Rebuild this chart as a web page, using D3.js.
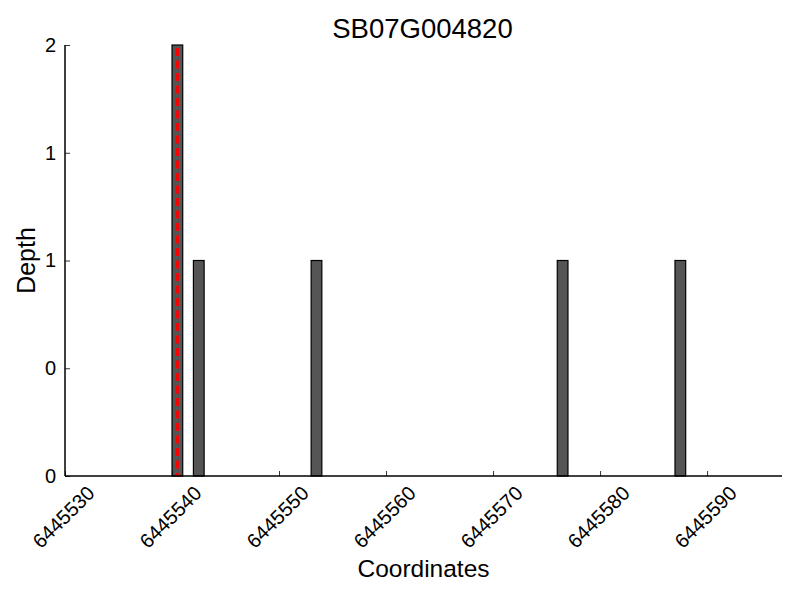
<!DOCTYPE html>
<html><head><meta charset="utf-8">
<script src="https://cdn.jsdelivr.net/npm/d3@7"></script>
<style>body{margin:0;background:#fff}svg{display:block}text{font-family:"Liberation Sans",Arial,sans-serif;fill:#000}</style>
</head><body><svg id="c" width="800" height="600"></svg>
<script>
const title = "SB07G004820";
const positions = [6445540, 6445542, 6445553, 6445576, 6445587];
const depths = [2, 1, 1, 1, 1];
const markerPos = [6445540.5];
const xTicks = [6445530, 6445540, 6445550, 6445560, 6445570, 6445580, 6445590];
const yTicks = [0, 0.5, 1, 1.5, 2];
const yTickLabels = ["0", "0", "1", "1", "2"];
const xDomain = [6445530, 6445597];
const yDomain = [0, 2];

const svg = d3.select("#c");
const m = {l: 65, r: 18, t: 45, b: 124};
const W = 800, H = 600;
const x = d3.scaleLinear().domain(xDomain).range([m.l, W - m.r]);
const y = d3.scaleLinear().domain(yDomain).range([H - m.b, m.t]);

// bars
svg.append("g").selectAll("rect").data(positions).join("rect")
  .attr("x", (d) => x(d))
  .attr("width", (d) => x(d + 1) - x(d))
  .attr("y", (d, i) => y(depths[i]))
  .attr("height", (d, i) => y(0) - y(depths[i]))
  .attr("fill", "#555555").attr("stroke", "#000").attr("stroke-width", 1.2);

// red dashed marker
svg.append("g").selectAll("line").data(markerPos).join("line")
  .attr("x1", (d) => x(d)).attr("x2", (d) => x(d))
  .attr("y1", y(2) + 3).attr("y2", y(0))
  .attr("stroke", "#ff0000").attr("stroke-width", 3).attr("stroke-dasharray", "8,4.5");

// x axis
const xa = svg.append("g").attr("transform", `translate(0,${y(0)})`)
  .call(d3.axisBottom(x).tickValues(xTicks).tickSize(-5).tickFormat(d3.format("d")));
xa.select(".domain").attr("stroke-width", 1.5).attr("d", `M${x.range()[0]},0H${x.range()[1]}`);
xa.selectAll(".tick line").attr("stroke-width", 0.8);
xa.selectAll(".tick text")
  .attr("font-size", 20).attr("y", 0).attr("dy", "0.35em")
  .attr("text-anchor", "middle")
  .attr("transform", "translate(-2,41) rotate(-45)");

// y axis
const ya = svg.append("g").attr("transform", `translate(${x.range()[0]},0)`)
  .call(d3.axisLeft(y).tickValues(yTicks).tickSize(-5).tickFormat((d, i) => yTickLabels[i]));
ya.select(".domain").attr("stroke-width", 1.5).attr("d", `M0,${y.range()[0]}V${y.range()[1]}`);
ya.selectAll(".tick line").attr("stroke-width", 0.8);
ya.selectAll(".tick text").attr("font-size", 20).attr("x", -9);

// titles
svg.append("text").attr("x", (x.range()[0] + x.range()[1]) / 2 - 1).attr("y", 38)
  .attr("text-anchor", "middle").attr("font-size", 27.5).text(title);
svg.append("text").attr("x", (x.range()[0] + x.range()[1]) / 2).attr("y", 577)
  .attr("text-anchor", "middle").attr("font-size", 24.5).text("Coordinates");
svg.append("text").attr("transform", `translate(35,${(y(0) + y(2)) / 2}) rotate(-90)`)
  .attr("text-anchor", "middle").attr("font-size", 25).text("Depth");
</script></body></html>
